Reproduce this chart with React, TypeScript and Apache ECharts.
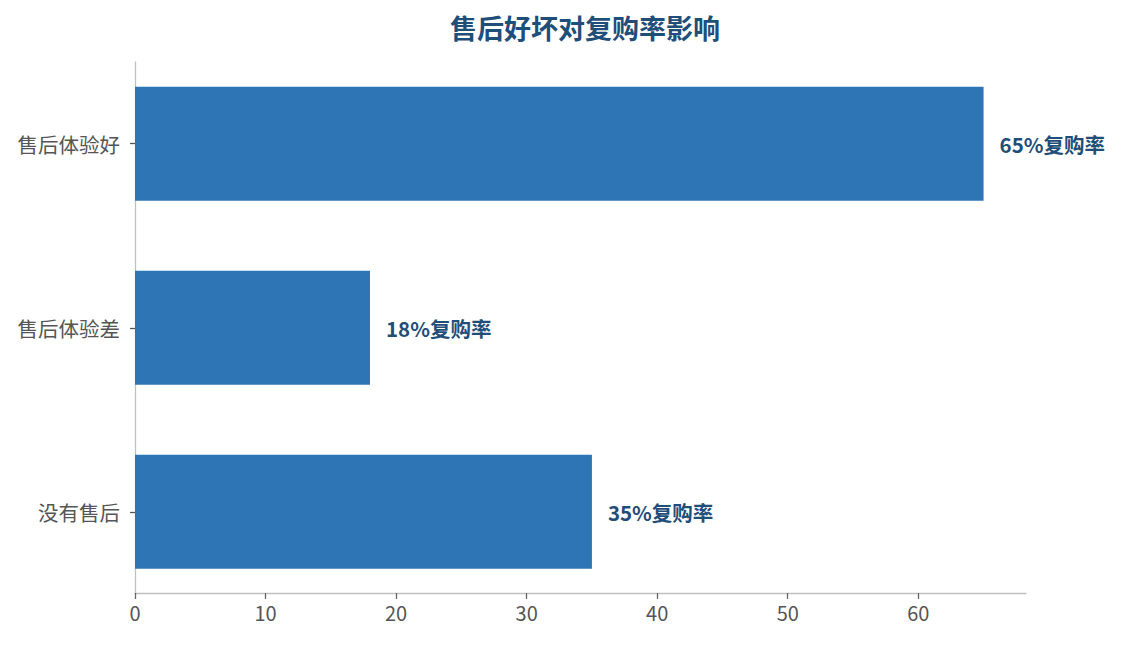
import React, { useEffect, useRef } from "react";
import * as echarts from "echarts";

const categories = ["售后体验好", "售后体验差", "没有售后"];
const values = [65, 18, 35];
const valueLabels = ["65%复购率", "18%复购率", "35%复购率"];
const xTicks = [0, 10, 20, 30, 40, 50, 60];
const xMax = 68.25;

const FONT = "'Noto Sans CJK SC', 'Noto Sans', sans-serif";

export default function App() {
  const ref = useRef<HTMLDivElement>(null);
  useEffect(() => {
    if (!ref.current) return;
    const chart = echarts.init(ref.current, null, { renderer: "svg" });
    chart.setOption({
      animation: false,
      backgroundColor: "#ffffff",
      title: {
        text: "售后好坏对复购率影响",
        left: 580,
        top: 9,
        textAlign: "center",
        textStyle: { fontFamily: FONT, fontSize: 27, fontWeight: "bold", color: "#1F4E79" },
      },
      grid: [
        { left: 135, right: 98, top: 62, bottom: 52 },
        { left: 135, right: 98, top: 51.7, bottom: 41.2 },
      ],
      xAxis: [
        {
          gridIndex: 0,
          type: "value",
          min: 0,
          max: xMax,
          splitLine: { show: false },
          axisLine: { show: true, lineStyle: { color: "#c0c0c0", width: 1.3 } },
          axisTick: { show: true, length: 6, customValues: xTicks, lineStyle: { color: "#666666", width: 1.3 } },
          axisLabel: {
            customValues: xTicks,
            margin: 9,
            fontFamily: FONT,
            fontSize: 20,
            color: "#555555",
          },
        },
        {
          gridIndex: 1,
          type: "value",
          min: 0,
          max: xMax,
          show: false,
          splitLine: { show: false },
        },
      ],
      yAxis: [
        {
          gridIndex: 0,
          type: "value",
          min: 0,
          max: 1,
          axisLine: { show: true, lineStyle: { color: "#c0c0c0", width: 1.3 } },
          axisTick: { show: false },
          axisLabel: { show: false },
          splitLine: { show: false },
        },
        {
          gridIndex: 1,
          type: "category",
          inverse: true,
          data: categories,
          axisLine: { show: false },
          axisTick: { show: true, alignWithLabel: true, length: 5, lineStyle: { color: "#555555", width: 1.3 } },
          axisLabel: { margin: 15, fontFamily: FONT, fontSize: 20.5, color: "#555555" },
          splitLine: { show: false },
        },
      ],
      series: [
        {
          type: "bar",
          xAxisIndex: 1,
          yAxisIndex: 1,
          data: values,
          barWidth: "62%",
          itemStyle: { color: "#2E75B6" },
          label: {
            show: true,
            position: "right",
            distance: 16,
            formatter: (p: any) => valueLabels[p.dataIndex],
            fontFamily: FONT,
            fontSize: 20.5,
            fontWeight: "bold",
            color: "#1F4E79",
          },
        },
      ],
    });
    return () => chart.dispose();
  }, []);
  return (
    <div
      ref={ref}
      style={{ position: "fixed", left: 0, top: 0, width: 1124, height: 645 }}
    />
  );
}
